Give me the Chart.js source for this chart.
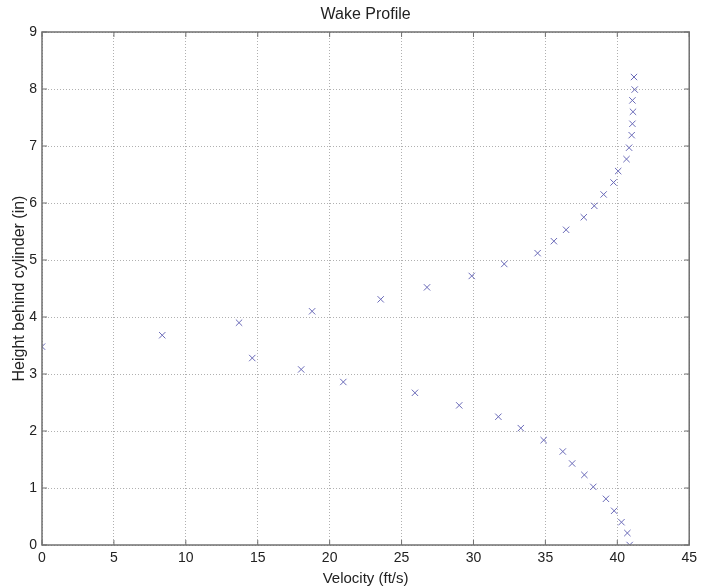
<!DOCTYPE html>
<html>
<head>
<meta charset="utf-8">
<title>Wake Profile</title>
<script src="https://cdn.jsdelivr.net/npm/chart.js@4.4.1/dist/chart.umd.min.js"></script>
<style>
  html, body { margin: 0; padding: 0; background: #fff; }
  #wrap { width: 702px; height: 588px; }
</style>
</head>
<body>
<div id="wrap"><canvas id="myChart"></canvas></div>
<script>
// Measured points, ordered by height behind the cylinder
const heights = [0.00, 0.21, 0.40, 0.60, 0.81, 1.02, 1.23, 1.43, 1.64, 1.84,
                 2.05, 2.25, 2.45, 2.67, 2.86, 3.08, 3.28, 3.48, 3.68, 3.90,
                 4.10, 4.31, 4.52, 4.72, 4.93, 5.12, 5.33, 5.53, 5.75, 5.95,
                 6.15, 6.36, 6.56, 6.77, 6.97, 7.19, 7.39, 7.60, 7.80, 7.99, 8.21];
const velocities = [40.86, 40.70, 40.29, 39.78, 39.21, 38.33, 37.71, 36.86, 36.21, 34.88,
                    33.29, 31.73, 29.01, 25.93, 20.95, 18.02, 14.62, 0.00, 8.36, 13.70,
                    18.78, 23.55, 26.77, 29.88, 32.14, 34.46, 35.59, 36.44, 37.67, 38.40,
                    39.05, 39.74, 40.06, 40.64, 40.82, 41.00, 41.05, 41.09, 41.05, 41.21, 41.16];

const xTicks = [0, 5, 10, 15, 20, 25, 30, 35, 40, 45];
const yTicks = [0, 1, 2, 3, 4, 5, 6, 7, 8, 9];

const points = velocities.map((v, i) => ({ x: v, y: heights[i] }));

const family = '"Liberation Sans", Arial, sans-serif';
const tickFont = { family: family, size: 14 };
const labelFont = { family: family, size: 15 };

// Box round the plot, inward tick marks and a title centred over the axes (MATLAB style)
const boxPlugin = {
  id: 'box',
  afterDraw(chart) {
    const { ctx, chartArea: a, scales } = chart;
    ctx.save();
    ctx.strokeStyle = '#707070';
    ctx.lineWidth = 1.5;
    ctx.strokeRect(a.left, a.top, a.right - a.left, a.bottom - a.top);
    ctx.lineWidth = 1;
    ctx.beginPath();
    xTicks.forEach(t => {
      const px = scales.x.getPixelForValue(t);
      ctx.moveTo(px, a.bottom); ctx.lineTo(px, a.bottom - 5);
      ctx.moveTo(px, a.top); ctx.lineTo(px, a.top + 5);
    });
    yTicks.forEach(t => {
      const py = scales.y.getPixelForValue(t);
      ctx.moveTo(a.left, py); ctx.lineTo(a.left + 5, py);
      ctx.moveTo(a.right, py); ctx.lineTo(a.right - 5, py);
    });
    ctx.stroke();

    ctx.fillStyle = '#222';
    ctx.font = '16px ' + family;
    ctx.textAlign = 'center';
    ctx.textBaseline = 'middle';
    ctx.fillText('Wake Profile', (a.left + a.right) / 2, 15);
    ctx.restore();
  }
};

const ctx = document.getElementById('myChart').getContext('2d');
new Chart(ctx, {
  type: 'scatter',
  data: {
    datasets: [{
      label: 'Wake',
      data: points,
      pointStyle: 'crossRot',
      radius: 4.5,
      borderWidth: 1,
      borderColor: '#6a6ab8',
      backgroundColor: '#6a6ab8'
    }]
  },
  options: {
    responsive: true,
    maintainAspectRatio: false,
    animation: false,
    layout: { padding: { left: 0, right: 9, top: 32, bottom: 0 } },
    plugins: {
      legend: { display: false },
      tooltip: { enabled: false },
      title: { display: false }
    },
    scales: {
      x: {
        type: 'linear',
        min: 0,
        max: 45,
        afterBuildTicks: axis => { axis.ticks = xTicks.map(v => ({ value: v })); },
        afterFit: axis => { axis.height = 43; },
        grid: { color: '#b0b0b0', lineWidth: 1, drawTicks: false },
        border: { display: false, dash: [1, 2] },
        ticks: { color: '#222', font: tickFont, padding: 5, maxRotation: 0 },
        title: { display: true, text: 'Velocity (ft/s)', color: '#222', font: labelFont, padding: { top: 0, bottom: 0 } }
      },
      y: {
        type: 'linear',
        min: 0,
        max: 9,
        afterBuildTicks: axis => { axis.ticks = yTicks.map(v => ({ value: v })); },
        afterFit: axis => { axis.width = 42; },
        grid: { color: '#b0b0b0', lineWidth: 1, drawTicks: false },
        border: { display: false, dash: [1, 2] },
        ticks: { color: '#222', font: tickFont, padding: 5 },
        title: { display: true, text: 'Height behind cylinder (in)', color: '#222', font: { family: family, size: 16 }, padding: { top: 10, bottom: 0 } }
      }
    }
  },
  plugins: [boxPlugin]
});
</script>
</body>
</html>
